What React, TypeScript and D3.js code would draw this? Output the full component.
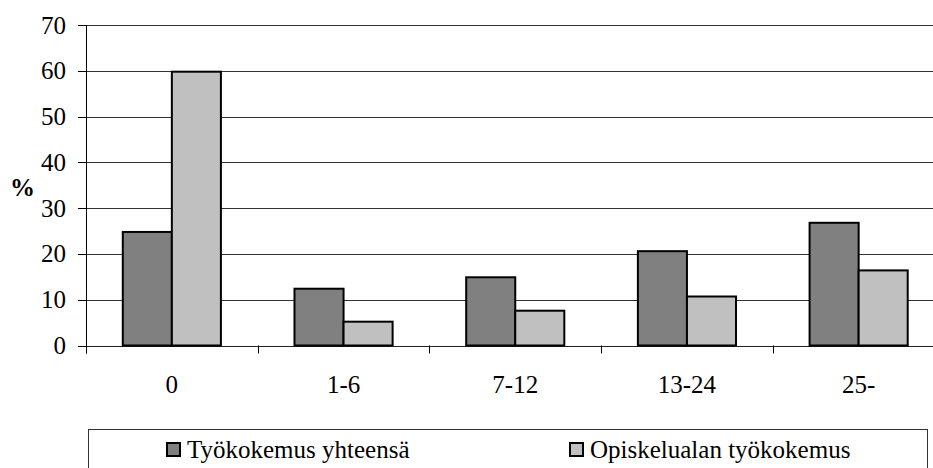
import React from "react";
import * as d3 from "d3";

const categories = ["0", "1-6", "7-12", "13-24", "25-"];
const totalExperience = [24.8, 12.4, 14.9, 20.6, 26.8];
const fieldExperience = [59.8, 5.2, 7.6, 10.7, 16.4];
const yTicks = [0, 10, 20, 30, 40, 50, 60, 70];
const seriesNames = ["Työkokemus yhteensä", "Opiskelualan työkokemus"];
const seriesColors = ["#808080", "#c0c0c0"];
const yLabel = "%";

const W = 933;
const H = 468;
const FONT = "'Liberation Serif'";
const FS = 25;

export default function App() {
  const x = d3.scaleBand<string>().domain(categories).range([86, 944.5]).paddingInner(0).paddingOuter(0);
  const x1 = d3
    .scaleBand<number>()
    .domain([0, 1])
    .range([0, x.bandwidth()])
    .paddingInner(0)
    .paddingOuter(0.75);
  const y = d3.scaleLinear().domain([0, 70]).range([345.5, 25]);
  const series = [totalExperience, fieldExperience];
  const plotLeft = 86;
  const plotRight = W;
  const tickEdges = categories.map((c) => x(c) as number);

  return (
    <svg width={W} height={H} style={{ display: "block", position: "absolute", left: 0, top: 0 }}>
      <rect x={0} y={0} width={W} height={H} fill="#fff" />
      {yTicks.map((t) => (
        <line
          key={"g" + t}
          x1={plotLeft}
          x2={plotRight}
          y1={Math.round(y(t)) + 0.5}
          y2={Math.round(y(t)) + 0.5}
          stroke={t === 0 ? "#222" : "#333"}
          strokeWidth={1}
        />
      ))}
      {categories.map((c, i) => (
        <g key={c} transform={`translate(${x(c)},0)`}>
          {series.map((s, k) => (
            <rect
              key={k}
              x={x1(k)}
              y={y(s[i])}
              width={x1.bandwidth()}
              height={y(0) - y(s[i])}
              fill={seriesColors[k]}
              stroke="#000"
              strokeWidth={2}
            />
          ))}
        </g>
      ))}
      <line x1={plotLeft + 0.5} x2={plotLeft + 0.5} y1={y(70)} y2={y(0) + 8} stroke="#000" strokeWidth={1} />
      {yTicks.map((t) => (
        <line
          key={"yt" + t}
          x1={plotLeft - 8}
          x2={plotLeft}
          y1={Math.round(y(t)) + 0.5}
          y2={Math.round(y(t)) + 0.5}
          stroke="#000"
        />
      ))}
      {yTicks.map((t) => (
        <text key={"yl" + t} x={66} y={y(t) + 8.5} textAnchor="end" fontSize={FS} style={{ fontFamily: FONT }}>
          {t}
        </text>
      ))}
      <text x={22.5} y={195.5} textAnchor="middle" fontSize={FS} fontWeight="bold" style={{ fontFamily: FONT }}>
        {yLabel}
      </text>
      {tickEdges.map((e, i) => (
        <line
          key={"xt" + i}
          x1={Math.round(e) + 0.5}
          x2={Math.round(e) + 0.5}
          y1={y(0)}
          y2={y(0) + 8}
          stroke="#000"
        />
      ))}
      {categories.map((c) => (
        <text
          key={"xl" + c}
          x={(x(c) as number) + x.bandwidth() / 2}
          y={393}
          textAnchor="middle"
          fontSize={FS}
          style={{ fontFamily: FONT }}
        >
          {c}
        </text>
      ))}
      <rect x={88.5} y={429.5} width={839} height={80} fill="#fff" stroke="#333" strokeWidth={1} />
      {seriesNames.map((n, k) => (
        <rect
          key={"ls" + k}
          x={(k === 0 ? 166 : 569) + 1}
          y={443}
          width={13}
          height={13}
          fill={seriesColors[k]}
          stroke="#000"
          strokeWidth={2}
        />
      ))}
      {seriesNames.map((n, k) => (
        <text key={"lt" + k} x={(k === 0 ? 166 : 569) + 21} y={458} fontSize={FS} style={{ fontFamily: FONT }}>
          {n}
        </text>
      ))}
    </svg>
  );
}
